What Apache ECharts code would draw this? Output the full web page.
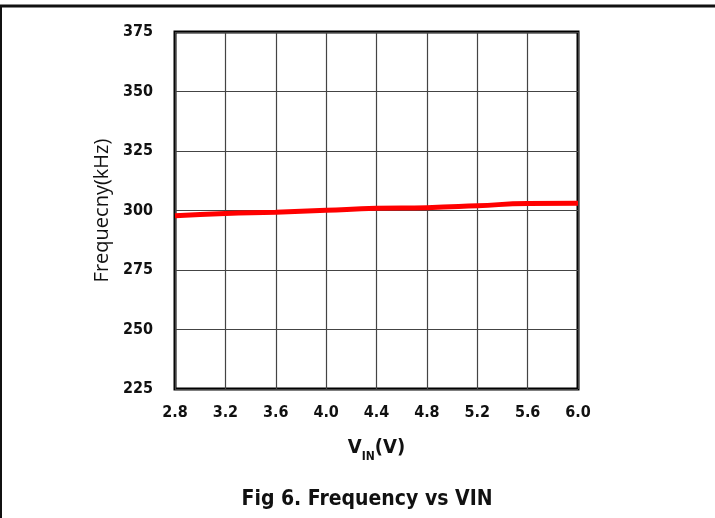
<!DOCTYPE html>
<html><head><meta charset="utf-8">
<script src="https://cdn.jsdelivr.net/npm/echarts@6/dist/echarts.min.js"></script>
<style>html,body{margin:0;padding:0;background:#fff}#c{width:715px;height:518px}</style>
</head><body><div id="c"></div>
<script>
const vin = [2.8, 3.2, 3.6, 4.0, 4.4, 4.8, 5.2, 5.6, 6.0];
const freq = [297.8, 298.7, 299.3, 300.1, 300.9, 301.2, 302.0, 302.9, 303.0];
const yTicks = [225, 250, 275, 300, 325, 350, 375];
const xTicks = [2.8, 3.2, 3.6, 4.0, 4.4, 4.8, 5.2, 5.6, 6.0];

const narrow = '"DejaVu Sans Condensed", "Liberation Sans Narrow", sans-serif';
const chart = echarts.init(document.getElementById('c'), null, {renderer: 'canvas'});
chart.setOption({
  animation: false,
  backgroundColor: '#fff',
  title: {
    text: 'Fig 6. Frequency vs VIN',
    left: 362, top: 484, textAlign: 'center',
    textStyle: {fontFamily: narrow, fontWeight: 600, fontSize: 21, color: '#111'}
  },
  grid: {left: 175, right: 137, top: 32, bottom: 129, show: true, borderColor: '#000', borderWidth: 3},
  xAxis: {
    type: 'value', min: 2.8, max: 6.0, interval: 0.4,
    axisLine: {show: false}, axisTick: {show: false},
    splitLine: {show: true, lineStyle: {color: '#444', width: 1.2}},
    axisLabel: {margin: 16, fontFamily: narrow, fontWeight: 'bold', fontSize: 16, color: '#111',
      formatter: v => v.toFixed(1)},
    name: '{v|V}{s|IN}{v|(V)}', nameLocation: 'middle', nameGap: 44,
    nameTextStyle: {rich: {
      v: {fontFamily: narrow, fontWeight: 'bold', fontSize: 20, color: '#111'},
      s: {fontFamily: narrow, fontWeight: 'bold', fontSize: 12, color: '#111', verticalAlign: 'bottom', padding: [18, 0, 0, 0]}
    }}
  },
  yAxis: {
    type: 'value', min: 225, max: 375, interval: 25,
    axisLine: {show: false}, axisTick: {show: false},
    splitLine: {show: true, lineStyle: {color: '#444', width: 1.2}},
    axisLabel: {margin: 22, fontFamily: narrow, fontWeight: 'bold', fontSize: 16, color: '#111'},
    name: 'Frequecny(kHz)', nameLocation: 'middle', nameGap: 60, nameRotate: 90,
    nameTextStyle: {fontFamily: '"Open Sans", sans-serif', fontSize: 20, color: '#111'}
  },
  series: [{
    type: 'line', smooth: true, showSymbol: false,
    data: vin.map((x, i) => [x, freq[i]]),
    lineStyle: {color: '#ff0000', width: 5}
  }],
  graphic: [
    {type: 'line', shape: {x1: 0, y1: 6, x2: 715, y2: 6}, style: {stroke: '#111', lineWidth: 3}},
    {type: 'line', shape: {x1: 1, y1: 6, x2: 1, y2: 518}, style: {stroke: '#111', lineWidth: 2}}
  ]
});
</script></body></html>
